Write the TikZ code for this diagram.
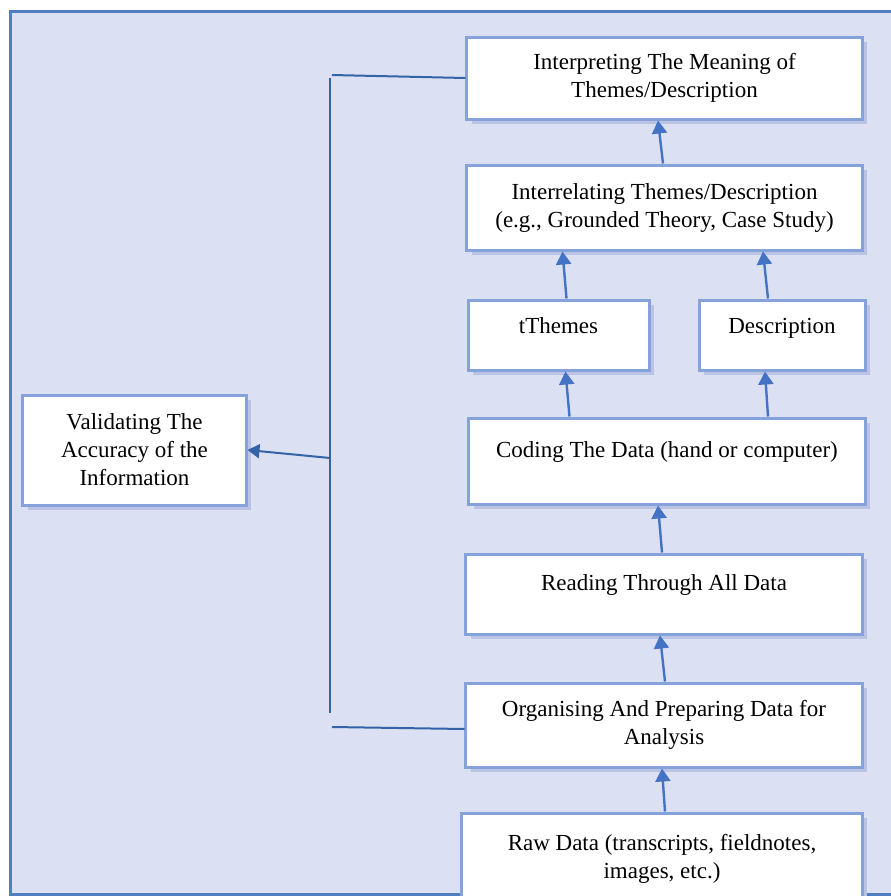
\documentclass[tikz,border=0pt]{standalone}
\usepackage{fontspec}
\setmainfont{Liberation Serif}
\usepackage{tikz}
\usepackage{xcolor}
\usetikzlibrary{arrows.meta, positioning, shadows, calc}

\definecolor{bgblue}{HTML}{DCE0F3}
\definecolor{frameblue}{HTML}{4F7FC0}
\definecolor{boxblue}{HTML}{86A2DA}
\definecolor{shadowblue}{HTML}{BAC3E3}
\definecolor{arrowblue}{HTML}{4472C4}
\definecolor{lineblue}{HTML}{3464A8}

\begin{document}
\begin{tikzpicture}[x=0.5bp, y=-0.5bp,
    stage/.style={draw=boxblue, line width=1.5bp, fill=white, align=center,
        font=\fontsize{11.5bp}{14bp}\selectfont, inner sep=2bp,
        drop shadow={shadow xshift=2.5bp, shadow yshift=-2.5bp, fill=shadowblue, opacity=1}},
    lifted/.style={text height=8bp, text depth=#1},
    uparrow/.style={-{Triangle[length=6.5bp, width=7.5bp]}, draw=arrowblue, line width=1.2bp},
    link/.style={draw=lineblue, line width=1bp}]
    \useasboundingbox (0,0) rectangle (891,896);
    \clip (0,0) rectangle (891,896);

    % Frame
    \draw[frameblue, line width=1.5bp, fill=bgblue] (10,11) rectangle (940,894);

    % Stages
    \node[stage, minimum width=197.5bp, minimum height=41bp] (interp) at (664.5,78)
        {Interpreting The Meaning of\\Themes/Description};
    \node[stage, minimum width=197.5bp, minimum height=42.5bp] (interrel) at (664.5,207.5)
        {Interrelating Themes/Description\\(e.g., Grounded Theory, Case Study)};
    \node[stage, lifted=10bp, minimum width=90.5bp, minimum height=35bp] (themes) at (558.5,335) {tThemes};
    \node[stage, lifted=10bp, minimum width=83bp, minimum height=35bp] (descr) at (782,335) {Description};
    \node[stage, lifted=12bp, minimum width=198bp, minimum height=43bp] (coding) at (667,461)
        {Coding The Data (hand or computer)};
    \node[stage, lifted=12bp, minimum width=198bp, minimum height=40bp] (reading) at (664,594)
        {Reading Through All Data};
    \node[stage, minimum width=198bp, minimum height=42bp] (organ) at (664,725)
        {Organising And Preparing Data for\\Analysis};
    \node[stage, minimum width=200bp, minimum height=50bp, text depth=7bp] (raw) at (662,863)
        {Raw Data (transcripts, fieldnotes,\\images, etc.)};
    \node[stage, minimum width=111.5bp, minimum height=55bp] (valid) at (134.5,450)
        {Validating The\\Accuracy of the\\Information};

    % Upward flow
    \draw[uparrow] ($(raw.north)+(3,0)$) -- ($(organ.south)+(-2,0)$);
    \draw[uparrow] ($(organ.north)+(1,0)$) -- ($(reading.south)+(-4,0)$);
    \draw[uparrow] ($(reading.north)+(-2,0)$) -- ($(coding.south)+(-9,0)$);
    \draw[uparrow] ($(themes.north |- coding.north)+(11,0)$) -- ($(themes.south)+(7,0)$);
    \draw[uparrow] ($(descr.north |- coding.north)+(-14,0)$) -- ($(descr.south)+(-17,0)$);
    \draw[uparrow] ($(themes.north)+(8,0)$) -- ($(themes.north |- interrel.south)+(4,0)$);
    \draw[uparrow] ($(descr.north)+(-14,0)$) -- ($(descr.north |- interrel.south)+(-19,0)$);
    \draw[uparrow] ($(interrel.north)+(-1.5,0)$) -- ($(interp.south)+(-6.5,0)$);

    % Validation bracket
    \coordinate (htop) at (332,75);
    \coordinate (vtop) at (330,78);
    \coordinate (vmid) at (330,458);
    \coordinate (vbot) at (330,713);
    \coordinate (hbot) at (332,727);
    \draw[link] (htop) -- (interp.west);
    \draw[link] (vtop) -- (vbot);
    \draw[link] (hbot) -- ($(organ.west)+(0,4)$);
    \draw[link, -{Triangle[length=6bp, width=7bp]}] (vmid) -- (valid.east);
\end{tikzpicture}
\end{document}
